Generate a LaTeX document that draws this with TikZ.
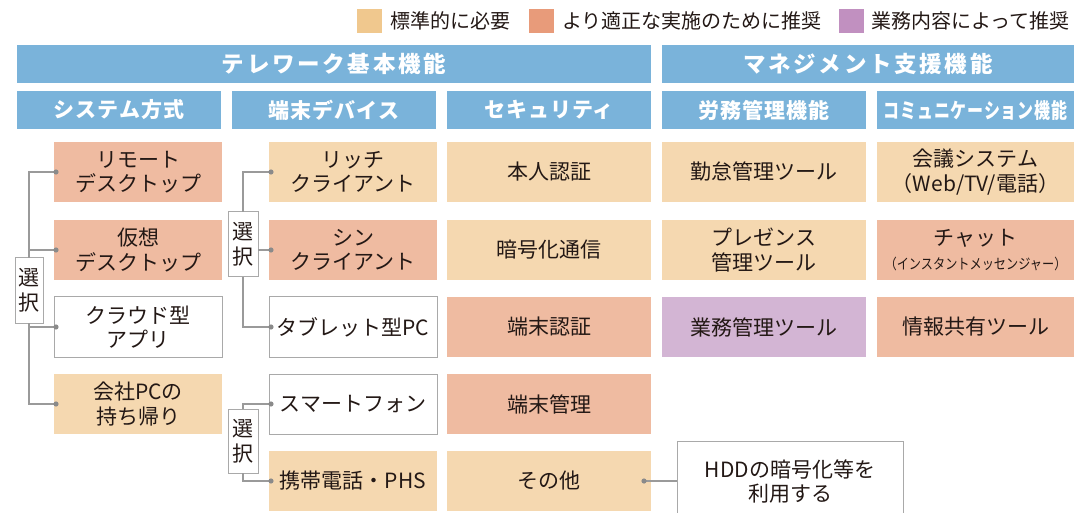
\documentclass[tikz,border=0pt]{standalone}
\usepackage{fontspec}
\setmainfont{Noto Sans CJK JP}
\usetikzlibrary{calc}
\definecolor{hdrblue}{HTML}{7AB3DA}
\definecolor{beige}{HTML}{F5D8B0}
\definecolor{salmon}{HTML}{EFBBA1}
\definecolor{lilac}{HTML}{D3B5D4}
\definecolor{lgbeige}{HTML}{F0C88E}
\definecolor{lgsalmon}{HTML}{E89B7A}
\definecolor{lglilac}{HTML}{C190C0}
\definecolor{txt}{HTML}{231815}
\definecolor{bordergray}{HTML}{A9A9A9}
\definecolor{linegray}{HTML}{9A9A9A}
\definecolor{dotgray}{HTML}{8A8A8A}
\tikzset{
 every node/.style={inner sep=0pt, outer sep=0pt},
 hdr/.style={fill=hdrblue, text=white, font=\fontsize{22.5}{26}\selectfont\bfseries\addfontfeature{LetterSpace=12}, minimum height=38pt},
 subhdr/.style={fill=hdrblue, text=white, font=\fontsize{21}{25}\selectfont\bfseries\addfontfeature{LetterSpace=5}, minimum height=38pt},
 cellbox/.style={text=txt, font=\fontsize{21}{24.5}\selectfont, align=center, minimum height=60pt},
 boxstd/.style={cellbox, fill=beige},
 boxrec/.style={cellbox, fill=salmon},
 boxbiz/.style={cellbox, fill=lilac},
 boxwht/.style={cellbox, fill=white, draw=bordergray, line width=1pt},
 selbox/.style={fill=white, draw=bordergray, line width=1pt, text=txt, font=\fontsize{21}{25}\selectfont, align=center},
 conn/.style={draw=linegray, line width=1.2pt},
 swatch/.style={minimum width=25pt, minimum height=24pt},
 lgtext/.style={text=txt, font=\fontsize{20}{24}\selectfont, anchor=west},
}
\begin{document}
\begin{tikzpicture}[x=1pt,y=-1pt]
\useasboundingbox (0,0) rectangle (1077,513);
\path[clip] (0,0) rectangle (1077,513);
% legend
\node[swatch, fill=lgbeige] (lg1) at (369.5,21) {};
\node[lgtext] (lt1) at (390,21) {標準的に必要};
\node[swatch, fill=lgsalmon] (lg2) at (541,21) {};
\node[lgtext] (lt2) at (562,21) {より適正な実施のために推奨};
\node[swatch, fill=lglilac] (lg3) at (851,21) {};
\node[lgtext] (lt3) at (871,21) {業務内容によって推奨};
% headers
\node[hdr, minimum width=634pt] (h1) at (334,64) {テレワーク基本機能};
\node[hdr, minimum width=412pt] (h2) at (868,64) {マネジメント支援機能};
\node[subhdr, minimum width=204pt] (s1) at (119,110) {システム方式};
\node[subhdr, minimum width=204pt] (s2) at (334,110) {端末デバイス};
\node[subhdr, minimum width=204pt] (s3) at (549,110) {セキュリティ};
\node[subhdr, minimum width=204pt] (s4) at (764,110) {労務管理機能};
\node[subhdr, minimum width=197pt] (s5) at (975.5,110) {\scalebox{0.76}[1]{コミュニケーション機能}};
% column 1
\node[boxrec, minimum width=168pt] (b11) at (138,172) {リモート\\デスクトップ};
\node[boxrec, minimum width=168pt] (b12) at (138,250) {仮想\\デスクトップ};
\node[boxwht, minimum width=168pt] (b13) at (138,327) {クラウド型\\アプリ};
\node[boxstd, minimum width=168pt] (b14) at (138,404) {会社PCの\\持ち帰り};
% column 2
\node[boxstd, minimum width=168pt] (b21) at (353,172) {リッチ\\クライアント};
\node[boxrec, minimum width=168pt] (b22) at (353,250) {シン\\クライアント};
\node[boxwht, minimum width=168pt] (b23) at (353,327) {タブレット型PC};
\node[boxwht, minimum width=168pt] (b24) at (353,404) {スマートフォン};
\node[boxstd, minimum width=168pt] (b25) at (353,481) {携帯電話・PHS};
% column 3
\node[boxstd, minimum width=204pt] (b31) at (549,172) {本人認証};
\node[boxstd, minimum width=204pt] (b32) at (549,250) {暗号化通信};
\node[boxrec, minimum width=204pt] (b33) at (549,327) {端末認証};
\node[boxrec, minimum width=204pt] (b34) at (549,404) {端末管理};
\node[boxstd, minimum width=204pt] (b35) at (549,481) {その他};
% column 4
\node[boxstd, minimum width=204pt] (b41) at (764,172) {勤怠管理ツール};
\node[boxstd, minimum width=204pt] (b42) at (764,250) {プレゼンス\\管理ツール};
\node[boxbiz, minimum width=204pt] (b43) at (764,327) {業務管理ツール};
% column 5
\node[boxstd, minimum width=197pt] (b51) at (975.5,172) {会議システム\\（Web/TV/電話）};
\node[boxrec, minimum width=197pt] (b52) at (975.5,250) {チャット\\[-1pt]{\fontsize{14.5}{16}\selectfont\scalebox{0.84}[1]{（インスタントメッセンジャー）}}};
\node[boxrec, minimum width=197pt] (b53) at (975.5,327) {情報共有ツール};
% HDD note
\node[boxwht, minimum width=226pt, minimum height=80pt] (hdd) at (790,481.5) {HDDの暗号化等を\\利用する};
% selection boxes
\node[selbox, minimum width=28pt, minimum height=65pt] (sel1) at (29,290.5) {選\\択};
\node[selbox, minimum width=30pt, minimum height=65pt] (sel2) at (243,244.5) {選\\択};
\node[selbox, minimum width=30pt, minimum height=64pt] (sel3) at (243,441) {選\\択};
% dot positions
\coordinate (p11) at ($(b11.west)+(2,0)$);
\coordinate (p12) at ($(b12.west)+(2,0)$);
\coordinate (p13) at ($(b13.west)+(2,0)$);
\coordinate (p14) at ($(b14.west)+(2,0)$);
\coordinate (p21) at ($(b21.west)+(2,0)$);
\coordinate (p22) at ($(b22.west)+(2,0)$);
\coordinate (p23) at ($(b23.west)+(2,0)$);
\coordinate (p24) at ($(b24.west)+(2,0)$);
\coordinate (p25) at ($(b25.west)+(2,0)$);
\coordinate (p35) at ($(b35.east)+(-7,0)$);
% connectors
\draw[conn] (sel1.north) |- (p11);
\draw[conn] (sel1.north) |- (p12);
\draw[conn] (sel1.south) |- (p13);
\draw[conn] (sel1.south) |- (p14);
\draw[conn] (sel2.north) |- (p21);
\draw[conn] (sel2.east |- p22) -- (p22);
\draw[conn] (sel2.south) |- (p23);
\draw[conn] (sel3.north) |- (p24);
\draw[conn] (sel3.south) |- (p25);
\draw[conn] (p35) -- (hdd.west |- p35);
% dots
\foreach \p in {p11,p12,p13,p14,p21,p22,p23,p24,p25,p35}
  \fill[dotgray] (\p) circle (2.6);
\end{tikzpicture}
\end{document}
